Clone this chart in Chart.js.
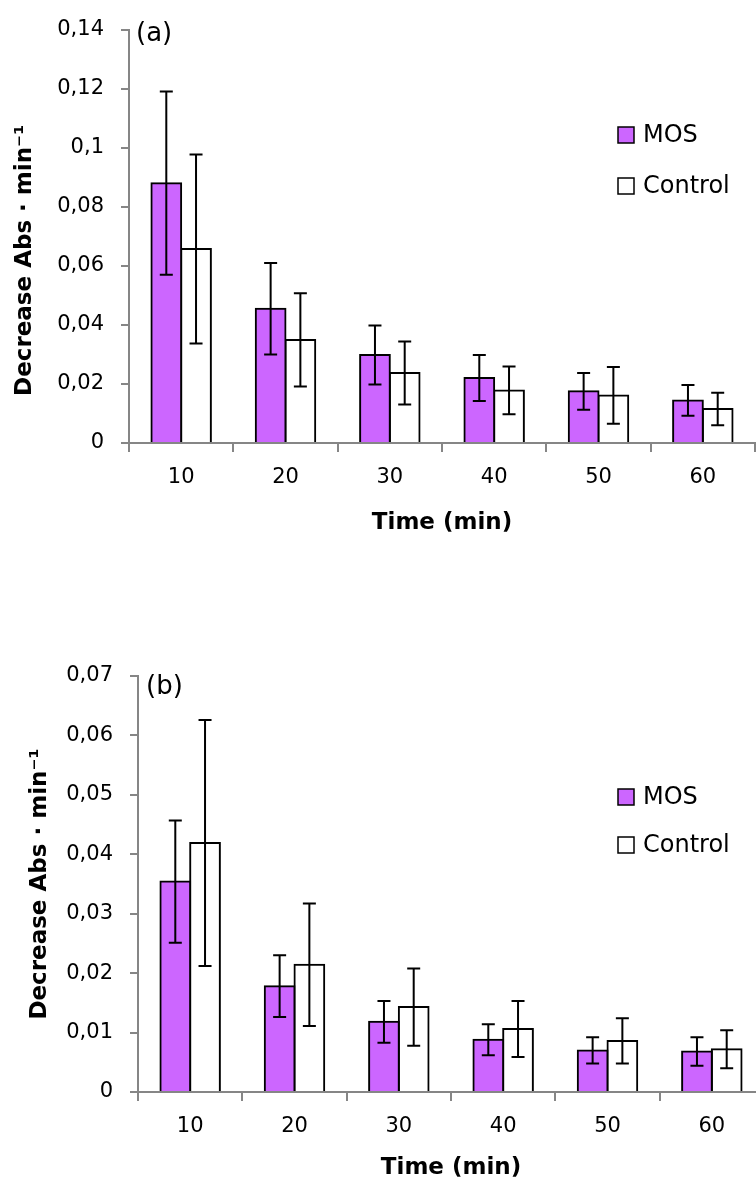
<!DOCTYPE html>
<html lang="en">
  <head>
    <meta charset="UTF-8" />
    <meta name="viewport" content="width=device-width, initial-scale=1.0" />
    <title>Decrease Abs · min-1 - MOS vs Control</title>
    <style>
      html, body { margin: 0; padding: 0; background: #fff; overflow: hidden; }
      .panel { position: absolute; left: 0; }
      #panel-a { top: 0; width: 756px; height: 592px; }
      #panel-b { top: 592px; width: 770px; height: 600px; }
    </style>
  </head>
  <body>
    <div class="panel" id="panel-a"><canvas id="chart-a"></canvas></div>
    <div class="panel" id="panel-b"><canvas id="chart-b"></canvas></div>

    <script src="https://cdn.jsdelivr.net/npm/chart.js"></script>
    <script>
      // data
      const categories = ["10", "20", "30", "40", "50", "60"];
      const seriesNames = ["MOS", "Control"];

      const mosA = [0.088, 0.0455, 0.0298, 0.022, 0.0175, 0.0144];
      const mosAErr = [0.031, 0.0155, 0.01, 0.0078, 0.0062, 0.0052];
      const ctrlA = [0.0657, 0.0349, 0.0237, 0.0178, 0.0161, 0.0115];
      const ctrlAErr = [0.032, 0.0158, 0.0107, 0.0081, 0.0096, 0.0055];

      const mosB = [0.0354, 0.0178, 0.0118, 0.0088, 0.007, 0.0068];
      const mosBErr = [0.0103, 0.0052, 0.0035, 0.0026, 0.0022, 0.0024];
      const ctrlB = [0.0419, 0.0214, 0.0143, 0.0106, 0.0086, 0.0072];
      const ctrlBErr = [0.0207, 0.0103, 0.0065, 0.0047, 0.0038, 0.0032];

      const FONT = "'DejaVu Sans', sans-serif";
      const AXIS_GREY = "#868686";
      const Y_TITLE = "Decrease Abs · min⁻¹";

      Chart.defaults.font.family = FONT;
      Chart.defaults.color = "#000";

      const errorBars = {
        id: "errorBars",
        afterDatasetsDraw(chart) {
          const ctx = chart.ctx;
          const y = chart.scales.y;
          const cap = 6.5;
          ctx.save();
          ctx.strokeStyle = "#000";
          ctx.lineWidth = 2;
          chart.data.datasets.forEach((ds, i) => {
            chart.getDatasetMeta(i).data.forEach((bar, j) => {
              const hi = y.getPixelForValue(ds.data[j] + ds.errors[j]);
              const lo = y.getPixelForValue(ds.data[j] - ds.errors[j]);
              ctx.beginPath();
              ctx.moveTo(bar.x, hi);
              ctx.lineTo(bar.x, lo);
              ctx.moveTo(bar.x - cap, hi);
              ctx.lineTo(bar.x + cap, hi);
              ctx.moveTo(bar.x - cap, lo);
              ctx.lineTo(bar.x + cap, lo);
              ctx.stroke();
            });
          });
          ctx.restore();
        },
      };

      // legend floating inside the plot + panel tag "(a)" / "(b)"
      const cornerLegend = {
        id: "cornerLegend",
        afterDraw(chart, args, opts) {
          const ctx = chart.ctx;
          ctx.save();
          ctx.textBaseline = "middle";
          ctx.font = "24px " + FONT;
          chart.data.datasets.forEach((ds, i) => {
            const cy = opts.y + i * opts.gap;
            ctx.fillStyle = ds.backgroundColor;
            ctx.fillRect(opts.x, cy - 8, 16, 16);
            ctx.strokeStyle = "#000";
            ctx.lineWidth = 1.5;
            ctx.strokeRect(opts.x, cy - 8, 16, 16);
            ctx.fillStyle = "#000";
            ctx.fillText(ds.label, opts.x + 25, cy + 1);
          });
          ctx.font = "26px " + FONT;
          ctx.fillText(opts.tag, opts.tagX, opts.tagY);
          ctx.restore();
        },
      };

      function commaTick(value) {
        return (+value.toFixed(2)).toString().replace(".", ",");
      }

      function makeChart(id, mos, mosErr, ctrl, ctrlErr, o) {
        return new Chart(document.getElementById(id), {
          type: "bar",
          data: {
            labels: categories,
            datasets: [
              {
                label: seriesNames[0],
                data: mos,
                errors: mosErr,
                backgroundColor: "#CC66FF",
                borderColor: "#000",
                borderWidth: 2,
                inflateAmount: 1,
              },
              {
                label: seriesNames[1],
                data: ctrl,
                errors: ctrlErr,
                backgroundColor: "#FFFFFF",
                borderColor: "#000",
                borderWidth: 2,
                inflateAmount: 1,
              },
            ],
          },
          options: {
            responsive: true,
            maintainAspectRatio: false,
            animation: false,
            categoryPercentage: 0.57,
            barPercentage: 1,
            layout: { padding: o.padding },
            plugins: {
              legend: { display: false },
              tooltip: { enabled: false },
              cornerLegend: o.legend,
            },
            scales: {
              x: {
                afterFit(scale) { scale.height = o.xHeight; },
                grid: {
                  display: true,
                  drawOnChartArea: false,
                  color: AXIS_GREY,
                  lineWidth: 2,
                  tickLength: 9,
                },
                border: { color: AXIS_GREY, width: 2 },
                ticks: { font: { size: 21 }, padding: 13, color: "#000" },
                title: {
                  display: true,
                  text: "Time (min)",
                  font: { size: 23, weight: "bold" },
                  padding: { top: 0, bottom: 6 },
                  color: "#000",
                },
              },
              y: {
                min: 0,
                max: o.yMax,
                afterFit(scale) { scale.width = o.yWidth; },
                ticks: {
                  stepSize: o.yStep,
                  font: { size: 21 },
                  padding: 17,
                  color: "#000",
                  callback: commaTick,
                },
                grid: {
                  display: true,
                  drawOnChartArea: false,
                  color: AXIS_GREY,
                  lineWidth: 2,
                  tickLength: 8,
                },
                border: { color: AXIS_GREY, width: 2 },
                title: {
                  display: true,
                  text: o.yTitle,
                  font: { size: 23, weight: "bold" },
                  padding: { top: o.yTitlePad, bottom: 0 },
                  color: "#000",
                },
              },
            },
          },
          plugins: [errorBars, cornerLegend],
        });
      }

      makeChart("chart-a", mosA, mosAErr, ctrlA, ctrlAErr, {
        yMax: 0.14,
        yStep: 0.02,
        yWidth: 129,
        xHeight: 100,
        yTitlePad: 11,
        // the original title sits a little below the middle of the axis
        yTitle: Y_TITLE + "\u00a0".repeat(6),
        padding: { top: 28, right: 1, bottom: 49, left: 0 },
        legend: { x: 618, y: 135, gap: 51, tag: "(a)", tagX: 136, tagY: 34 },
      });

      makeChart("chart-b", mosB, mosBErr, ctrlB, ctrlBErr, {
        yMax: 0.07,
        yStep: 0.01,
        yWidth: 138,
        xHeight: 96,
        yTitlePad: 26,
        yTitle: Y_TITLE,
        padding: { top: 84, right: 6, bottom: 4, left: 0 },
        legend: { x: 618, y: 205, gap: 48, tag: "(b)", tagX: 146, tagY: 95 },
      });
    </script>
  </body>
</html>
